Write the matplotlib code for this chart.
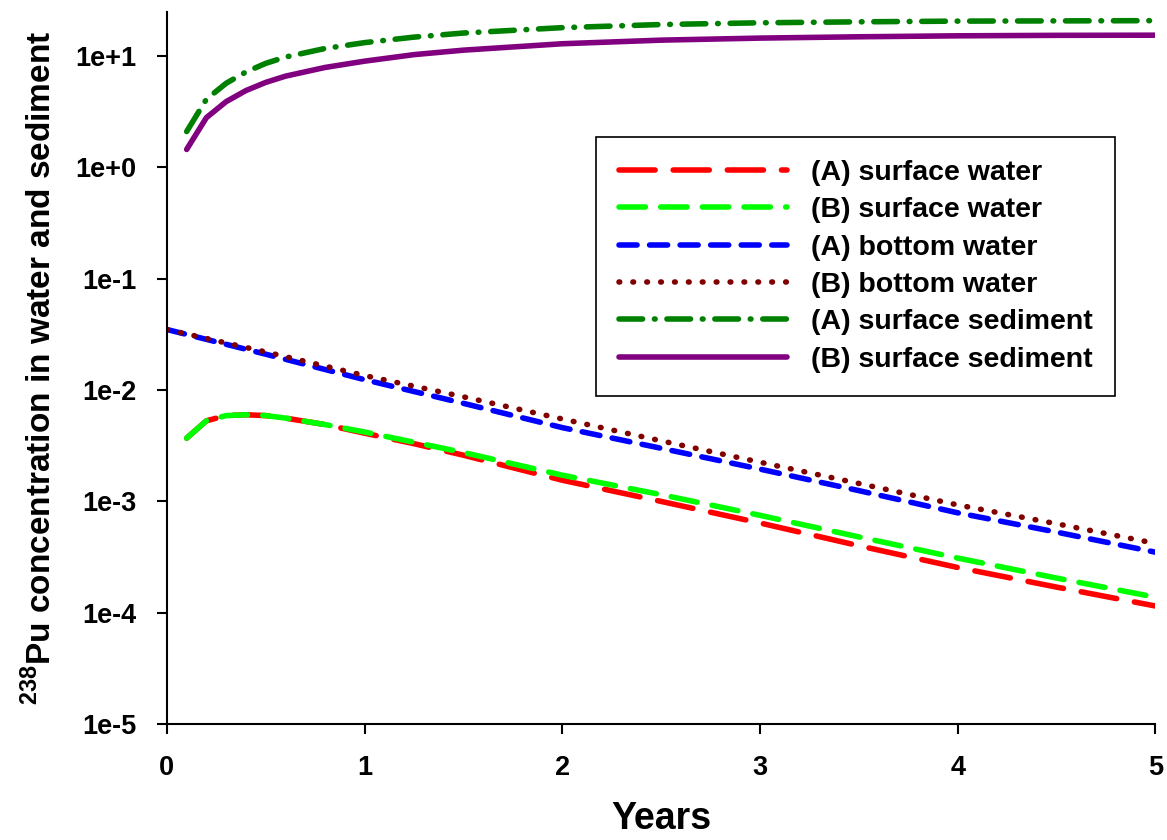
import matplotlib
matplotlib.use('Agg')
import matplotlib.pyplot as plt

plt.rcParams['font.family'] = ['Liberation Sans', 'DejaVu Sans']
plt.rcParams['font.weight'] = 'bold'
plt.rcParams['mathtext.fontset'] = 'custom'
plt.rcParams['mathtext.rm'] = 'Liberation Sans:bold'
plt.rcParams['mathtext.bf'] = 'Liberation Sans:bold'
plt.rcParams['lines.scale_dashes'] = False

# years
t_bottom = [0, 0.5, 1.0, 1.5, 2.0, 2.5, 3.0, 3.5, 4.0, 4.5, 5.0]
t_other = [0.1, 0.2, 0.3, 0.4, 0.5, 0.6, 0.8, 1.0, 1.25, 1.5, 2.0, 2.5, 3.0, 3.5, 4.0, 4.5, 5.0]

# concentrations
a_surf_water = [3.7e-3, 5.3e-3, 5.9e-3, 6.0e-3, 5.9e-3, 5.6e-3, 4.9e-3, 4.1e-3, 3.3e-3,
                2.6e-3, 1.55e-3, 1.0e-3, 6.4e-4, 4.0e-4, 2.55e-4, 1.7e-4, 1.15e-4]
b_surf_water = [3.7e-3, 5.3e-3, 5.9e-3, 6.0e-3, 5.9e-3, 5.6e-3, 4.9e-3, 4.2e-3, 3.4e-3,
                2.75e-3, 1.72e-3, 1.15e-3, 7.5e-4, 4.8e-4, 3.1e-4, 2.05e-4, 1.38e-4]
a_bot_water = [0.035, 0.021, 0.0124, 7.6e-3, 4.6e-3, 3.0e-3, 1.95e-3, 1.25e-3, 7.9e-4, 5.3e-4, 3.5e-4]
b_bot_water = [0.035, 0.022, 0.0135, 8.7e-3, 5.5e-3, 3.5e-3, 2.25e-3, 1.45e-3, 9.3e-4, 6.3e-4, 4.2e-4]
a_surf_sed = [2.1, 4.1, 5.7, 7.2, 8.6, 9.8, 11.7, 13.2, 14.8, 16.1, 18.0, 19.2, 19.9, 20.3, 20.6, 20.7, 20.8]
b_surf_sed = [1.45, 2.8, 3.9, 4.9, 5.8, 6.6, 7.9, 9.0, 10.3, 11.3, 12.9, 13.9, 14.5, 14.9, 15.2, 15.35, 15.4]

yticks = [1e-5, 1e-4, 1e-3, 1e-2, 1e-1, 1e0, 1e1]
ytick_labels = ['1e-5', '1e-4', '1e-3', '1e-2', '1e-1', '1e+0', '1e+1']

fig = plt.figure(figsize=(11.67, 8.4), dpi=100)
ax = fig.add_axes([0.143, 0.138, 0.847, 0.848])

lw = 4
kw = dict(linewidth=lw, dash_capstyle='round', solid_capstyle='round')
ax.plot(t_other, a_surf_water, color='#ff0000', dashes=(26, 13), label='(A) surface water', **kw)
ax.plot(t_other, b_surf_water, color='#00ff00', dashes=(19, 11), label='(B) surface water', **kw)
ax.plot(t_bottom, a_bot_water, color='#0000ff', dashes=(13, 9), label='(A) bottom water', **kw)
ax.plot(t_bottom, b_bot_water, color='#800000', dashes=(0.5, 9.5), label='(B) bottom water', **kw)
ax.plot(t_other, a_surf_sed, color='#008000', dashes=(17, 8.5, 0.5, 8.5), label='(A) surface sediment', **kw)
ax.plot(t_other, b_surf_sed, color='#800080', label='(B) surface sediment', **kw)

ax.set_yscale('log')
ax.set_xlim(0, 5)
ax.set_ylim(1e-5, 25)
ax.set_yticks(yticks)
ax.set_yticklabels(ytick_labels)
ax.minorticks_off()
ax.set_xticks([0, 1, 2, 3, 4, 5])
for lab in ax.get_xticklabels() + ax.get_yticklabels():
    lab.set_fontweight('bold')

for s in ['top', 'right']:
    ax.spines[s].set_visible(False)
for s in ['left', 'bottom']:
    ax.spines[s].set_linewidth(1.5)
ax.tick_params(direction='out', length=7, width=1.5, labelsize=19.5, pad=15)

ax.set_xlabel('Years', fontsize=27, fontweight='bold', labelpad=15)
ax.set_ylabel(r'$^{238}$Pu concentration in water and sediment', fontsize=24,
              fontweight='bold', labelpad=12)

leg = ax.legend(loc='upper left', bbox_to_anchor=(0.434, 0.824),
                prop={'size': 20.5, 'weight': 'bold'},
                handlelength=5.9, handletextpad=0.84, labelspacing=0.4,
                borderpad=0.8, borderaxespad=0, fancybox=False, framealpha=1, edgecolor='black')
leg.get_frame().set_linewidth(1.2)

fig.savefig('out.png', dpi=100)
